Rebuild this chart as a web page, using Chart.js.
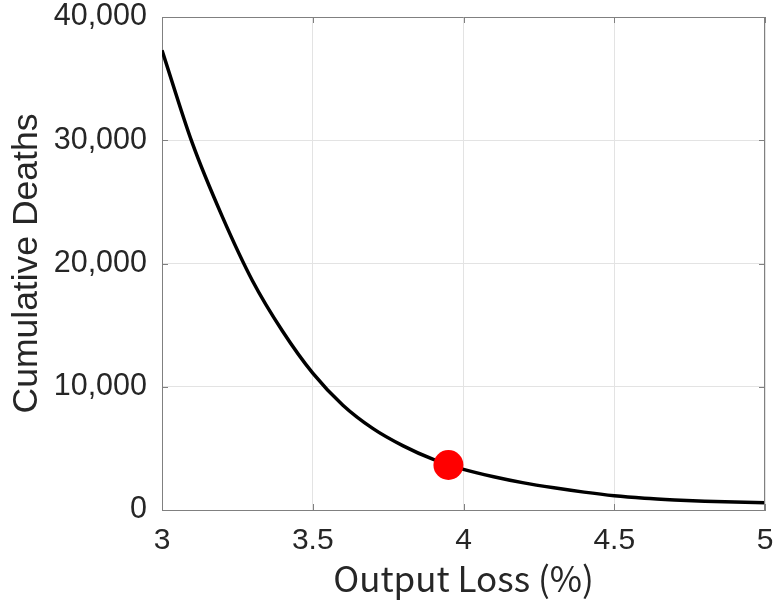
<!DOCTYPE html>
<html>
<head>
<meta charset="utf-8">
<script src="https://cdn.jsdelivr.net/npm/chart.js@4/dist/chart.umd.min.js"></script>
<style>
  html, body { margin: 0; padding: 0; background: #fff; }
  #wrap { width: 775px; height: 602px; }
</style>
</head>
<body>
<div id="wrap"><canvas id="c_deaths"></canvas></div>
<script>
// output loss (%) on x, cumulative deaths on y
const lossValues = [3.0, 3.1, 3.2, 3.3, 3.4, 3.5, 3.6, 3.7, 3.8, 3.9, 4.0, 4.1, 4.2, 4.3, 4.4, 4.5, 4.6, 4.7, 4.8, 4.9, 5.0];
const deathValues = [37300, 29800, 23800, 18600, 14500, 11100, 8500, 6600, 5200, 4100, 3300, 2700, 2200, 1800, 1450, 1160, 960, 820, 710, 640, 590];
const markerLoss = [3.95];
const markerDeaths = [3650];
const xTickValues = [3, 3.5, 4, 4.5, 5];
const yTickValues = [0, 10000, 20000, 30000, 40000];

const c_deaths = document.getElementById('c_deaths');
const textColor = '#262626';
const axisColor = '#808080';

// box around plot + inward tick marks (matlab look)
const boxPlugin = {
    id: 'boxPlugin',
    afterDraw: (chart) => {
        const ctx = chart.ctx;
        const a = chart.chartArea;
        const xs = chart.scales.x;
        const ys = chart.scales.y;
        ctx.save();
        ctx.strokeStyle = axisColor;
        ctx.lineWidth = 1;
        ctx.beginPath();
        ctx.moveTo(a.left + 0.5, a.top + 0.5);
        ctx.lineTo(a.right - 0.5, a.top + 0.5);
        ctx.lineTo(a.right - 0.5, a.bottom);
        ctx.stroke();
        ctx.beginPath();
        xTickValues.forEach(v => {
            const px = Math.round(xs.getPixelForValue(v)) + 0.5;
            ctx.moveTo(px, a.bottom);
            ctx.lineTo(px, a.bottom - 6);
            ctx.moveTo(px, a.top);
            ctx.lineTo(px, a.top + 6);
        });
        yTickValues.forEach(v => {
            const py = Math.round(ys.getPixelForValue(v)) + 0.5;
            ctx.moveTo(a.left, py);
            ctx.lineTo(a.left + 6, py);
            ctx.moveTo(a.right, py);
            ctx.lineTo(a.right - 6, py);
        });
        ctx.stroke();
        ctx.restore();
    }
};

// drop the label overhang padding so the plot box sits where the layout padding says
function noPad(scale) {
    scale.paddingLeft = 0;
    scale.paddingRight = 0;
    scale.paddingTop = 0;
    scale.paddingBottom = 0;
}

var deaths_data = {
    type: 'scatter',
    data: {
        datasets: [
            {
                label: 'Selected',
                data: markerLoss.map((x, i) => ({ x: x, y: markerDeaths[i] })),
                backgroundColor: '#ff0000',
                borderWidth: 0,
                pointRadius: 15,
                showLine: false
            },
            {
                label: 'Cumulative Deaths',
                data: lossValues.map((x, i) => ({ x: x, y: deathValues[i] })),
                showLine: true,
                borderColor: '#000000',
                borderWidth: 3.5,
                pointRadius: 0,
                cubicInterpolationMode: 'monotone'
            }
        ]
    },
    options: {
        responsive: false,
        animation: false,
        layout: {
            autoPadding: false,
            padding: { top: 17, right: 10, left: 0, bottom: 0 }
        },
        plugins: {
            legend: { display: false },
            tooltip: { enabled: false }
        },
        scales: {
            x: {
                type: 'linear',
                min: 3,
                max: 5,
                afterBuildTicks: (scale) => {
                    scale.ticks = xTickValues.map(v => ({ value: v }));
                },
                afterFit: (scale) => {
                    scale.height = 92;
                    noPad(scale);
                },
                ticks: {
                    color: textColor,
                    padding: 13,
                    maxRotation: 0,
                    font: { family: '"Liberation Sans", Arial, sans-serif', size: 30 },
                    callback: (v) => String(v)
                },
                grid: { color: '#e3e3e3', lineWidth: 1, drawTicks: false },
                border: { display: true, color: axisColor, width: 1 },
                title: {
                    display: true,
                    text: 'Output Loss (%)',
                    color: textColor,
                    padding: { top: 0, bottom: 2 },
                    font: { family: '"Noto Sans CJK JP", sans-serif', size: 35 }
                }
            },
            y: {
                min: 0,
                max: 40000,
                afterBuildTicks: (scale) => {
                    scale.ticks = yTickValues.map(v => ({ value: v }));
                },
                afterFit: (scale) => {
                    scale.width = 162;
                    noPad(scale);
                },
                ticks: {
                    color: textColor,
                    padding: 15,
                    font: { family: '"Liberation Sans", Arial, sans-serif', size: 30.5 },
                    callback: (v) => v.toLocaleString('en-US')
                },
                grid: { color: '#e3e3e3', lineWidth: 1, drawTicks: false },
                border: { display: true, color: axisColor, width: 1 },
                title: {
                    display: true,
                    text: 'Cumulative Deaths',
                    color: textColor,
                    padding: { top: 6, bottom: 0 },
                    font: { family: '"Liberation Sans", Arial, sans-serif', size: 35.5 }
                }
            }
        }
    },
    plugins: [boxPlugin]
};

c_deaths.width = 775;
c_deaths.height = 602;
var chart_deaths = new Chart(c_deaths, deaths_data);
</script>
</body>
</html>
